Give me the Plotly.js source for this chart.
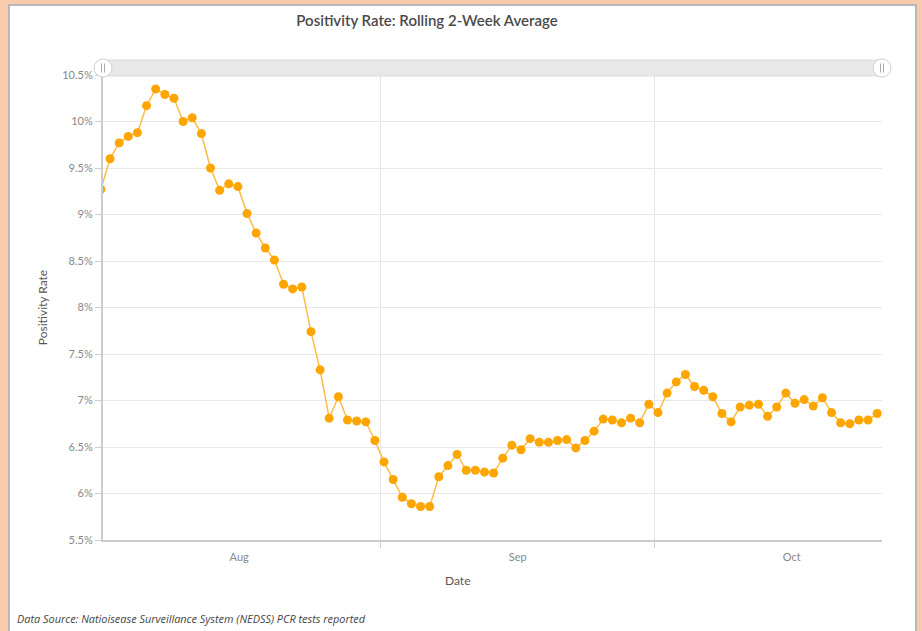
<!DOCTYPE html>
<html>
<head>
<meta charset="utf-8">
<script src="https://cdn.plot.ly/plotly-3.0.1.min.js"></script>
<style>
html,body{margin:0;padding:0;background:#f8cbad;}
#chart{width:922px;height:631px;}
</style>
</head>
<body>
<div id="chart"></div>
<script>
// ---- data ----
const dates = [
  '2020-08-01','2020-08-02','2020-08-03','2020-08-04','2020-08-05','2020-08-06','2020-08-07','2020-08-08',
  '2020-08-09','2020-08-10','2020-08-11','2020-08-12','2020-08-13','2020-08-14','2020-08-15','2020-08-16',
  '2020-08-17','2020-08-18','2020-08-19','2020-08-20','2020-08-21','2020-08-22','2020-08-23','2020-08-24',
  '2020-08-25','2020-08-26','2020-08-27','2020-08-28','2020-08-29','2020-08-30','2020-08-31',
  '2020-09-01','2020-09-02','2020-09-03','2020-09-04','2020-09-05','2020-09-06','2020-09-07','2020-09-08',
  '2020-09-09','2020-09-10','2020-09-11','2020-09-12','2020-09-13','2020-09-14','2020-09-15','2020-09-16',
  '2020-09-17','2020-09-18','2020-09-19','2020-09-20','2020-09-21','2020-09-22','2020-09-23','2020-09-24',
  '2020-09-25','2020-09-26','2020-09-27','2020-09-28','2020-09-29','2020-09-30',
  '2020-10-01','2020-10-02','2020-10-03','2020-10-04','2020-10-05','2020-10-06','2020-10-07','2020-10-08',
  '2020-10-09','2020-10-10','2020-10-11','2020-10-12','2020-10-13','2020-10-14','2020-10-15','2020-10-16',
  '2020-10-17','2020-10-18','2020-10-19','2020-10-20','2020-10-21','2020-10-22','2020-10-23','2020-10-24',
  '2020-10-25'
];
const positivityAug = [9.27, 9.60, 9.77, 9.84, 9.88, 10.17, 10.35, 10.29, 10.25, 10.00, 10.04, 9.87, 9.50, 9.26, 9.33, 9.30,
  9.01, 8.80, 8.64, 8.51, 8.25, 8.20, 8.22, 7.74, 7.33, 6.81, 7.04, 6.79, 6.78, 6.77, 6.57];
const positivitySep = [6.34, 6.15, 5.96, 5.89, 5.86, 5.86, 6.18, 6.30, 6.42, 6.25, 6.25, 6.23, 6.22, 6.38, 6.52, 6.47,
  6.59, 6.55, 6.55, 6.57, 6.58, 6.49, 6.57, 6.67, 6.80, 6.79, 6.76, 6.81, 6.76, 6.96];
const positivityOct = [6.87, 7.08, 7.20, 7.28, 7.15, 7.11, 7.04, 6.86, 6.77, 6.93, 6.95, 6.96, 6.83, 6.93, 7.08, 6.97,
  7.01, 6.94, 7.03, 6.87, 6.76, 6.75, 6.79, 6.79, 6.86];
const positivity = positivityAug.concat(positivitySep, positivityOct);

const titleText = 'Positivity Rate: Rolling 2-Week Average';
const xTitle = 'Date';
const yTitle = 'Positivity Rate';
const sourceText = 'Data Source: Natioisease Surveillance System (NEDSS) PCR tests reported';

// ---- chart ----
const reportHour = ' 08:40';
const x = dates.map(d => d + reportHour);

const W = 922, H = 631, ml = 103, mr = 40, mt = 75, mb = 91;
const pw = W - ml - mr, ph = H - mt - mb;
const px = v => (v - ml) / pw;          // pixel -> paper x
const py = v => (H - mb - v) / ph;      // pixel -> paper y

const trace = {
  x: x, y: positivity, type: 'scatter', mode: 'lines+markers',
  line: {color: '#ffbb44', width: 1.5},
  marker: {color: '#ffa500', size: 9},
  hoverinfo: 'x+y'
};

function handle(cx) {
  const r = 9;
  return [
    {type:'circle', xref:'paper', yref:'paper', x0:px(cx-r), x1:px(cx+r), y0:py(68+r), y1:py(68-r),
     fillcolor:'#ffffff', line:{color:'#d0d0d0', width:1}, layer:'above'},
    {type:'line', xref:'paper', yref:'paper', x0:px(cx-1.5), x1:px(cx-1.5), y0:py(63.5), y1:py(72.5),
     line:{color:'#aaaaaa', width:1}, layer:'above'},
    {type:'line', xref:'paper', yref:'paper', x0:px(cx+1.5), x1:px(cx+1.5), y0:py(63.5), y1:py(72.5),
     line:{color:'#aaaaaa', width:1}, layer:'above'}
  ];
}

const shapes = [
  // white panel
  {type:'rect', xref:'paper', yref:'paper', x0:px(9), x1:px(916), y0:py(645), y1:py(5),
   fillcolor:'#ffffff', line:{color:'#b8b8b8', width:2}, layer:'below'},
  // scroll bar
  {type:'rect', xref:'paper', yref:'paper', x0:px(103), x1:px(882), y0:py(76), y1:py(60),
   fillcolor:'#e8e8e8', line:{color:'#dcdcdc', width:1}, layer:'above'}
].concat(handle(103), handle(882));

const layout = {
  width: W, height: H,
  margin: {l: ml, r: mr, t: mt, b: mb, pad: 0},
  paper_bgcolor: '#f8cbad',
  plot_bgcolor: '#ffffff',
  showlegend: false,
  font: {family: 'Lato, "Open Sans", sans-serif', color: '#888888', size: 11},
  title: {
    text: titleText, xref: 'container', yref: 'container',
    x: 427 / W, xanchor: 'center', y: 1 - 21 / H, yanchor: 'middle',
    font: {family: 'Lato, sans-serif', size: 15, color: '#4a4a4a', weight: 600}
  },
  xaxis: {
    type: 'date',
    range: ['2020-08-01 14:10', '2020-10-25 21:20'],
    tick0: '2020-08-01', dtick: 'M1', tickformat: '%b', ticklabelmode: 'period',
    showgrid: true, gridcolor: '#e4e4e4', gridwidth: 1,
    ticks: 'outside', ticklen: 6, tickcolor: '#cccccc', tickwidth: 1,
    showline: true, linecolor: '#cccccc', linewidth: 2,
    zeroline: false,
    tickfont: {size: 11, color: '#888888'}
  },
  yaxis: {
    range: [5.5, 10.5], dtick: 0.5, tick0: 5.5, ticksuffix: '%',
    showgrid: true, gridcolor: '#e8e8e8', gridwidth: 1,
    ticks: 'outside', ticklen: 6, tickcolor: '#cccccc', tickwidth: 1,
    showline: true, linecolor: '#cccccc', linewidth: 2,
    zeroline: false,
    tickfont: {size: 11, color: '#888888'},
    title: {text: yTitle, font: {size: 12, color: '#555555'}, standoff: 12}
  },
  shapes: shapes,
  annotations: [
    {text: xTitle, xref: 'paper', yref: 'paper', x: px(457), y: py(580),
     xanchor: 'center', yanchor: 'middle', showarrow: false,
     font: {size: 12, color: '#555555'}},
    {text: sourceText, xref: 'paper', yref: 'paper', x: px(15), y: py(618),
     xanchor: 'left', yanchor: 'middle', showarrow: false,
     font: {family: '"Open Sans", sans-serif', size: 10.9, color: '#444444', style: 'italic'}}
  ]
};

Plotly.newPlot('chart', [trace], layout, {displayModeBar: false, staticPlot: false});
</script>
</body>
</html>
